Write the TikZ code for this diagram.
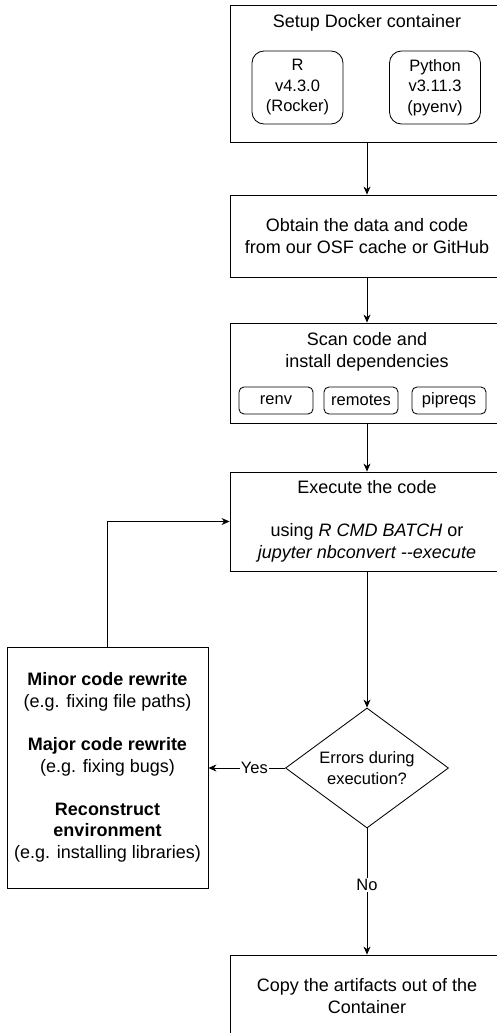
\documentclass[tikz,border=0pt]{standalone}
\usepackage{fontspec}
\setmainfont{Liberation Sans}
\usepackage{tikz}
\usetikzlibrary{shapes.geometric,arrows.meta}
\tikzstyle{box}=[shape=rectangle,draw,line width=0.85pt,minimum width=274pt,align=center,inner sep=0pt]
\tikzstyle{env}=[shape=rectangle,draw,line width=0.85pt,rounded corners=12pt,minimum width=91pt,minimum height=73pt,align=center,inner sep=0pt,font=\fontsize{16.5}{20.5}\selectfont]
\tikzstyle{pkg}=[shape=rectangle,draw,line width=0.85pt,rounded corners=5pt,minimum width=74pt,minimum height=27pt,inner sep=0pt,font=\fontsize{16.5}{20.5}\selectfont]
\tikzstyle{decide}=[shape=diamond,draw,line width=0.85pt,minimum width=163pt,minimum height=120pt,aspect=1.36,inner sep=0pt,align=center,font=\fontsize{16.5}{20.5}\selectfont]
\tikzstyle{lbl}=[fill=white,inner sep=1pt,font=\fontsize{16.5}{18}\selectfont]
\tikzstyle{to}=[->,shorten >=0pt,>={Stealth[length=8pt,width=7pt,inset=2.5pt]},line width=0.85pt]

\begin{document}
\begin{tikzpicture}[x=1pt,y=-1pt,every node/.style={font=\fontsize{18}{21.6}\selectfont}]
    \useasboundingbox (0,0) rectangle (497,1033);
    \clip (0,0) rectangle (497,1033);
    % container with the two language images
    \node[box,minimum height=137pt] (docker) at (367,73.5) {};
    \node[align=center] (dockerlbl) at (367,23) {Setup Docker container};
    \node[env] (rimg) at (297.5,87.5) {R\\v4.3.0\\(Rocker)};
    \node[env] (pyimg) at (435,87.5) {Python\\v3.11.3\\(pyenv)};
    % fetching
    \node[box,minimum height=82pt] (obtain) at (367,236)
        {Obtain the data and code\\from our OSF cache or GitHub};
    % dependencies
    \node[box,minimum height=100pt] (scan) at (367,373) {};
    \node[align=center] (scanlbl) at (367,352) {Scan code and\\install dependencies};
    \node[pkg] (renv) at (276,400.5) {renv};
    \node[pkg] (remotes) at (361,400.5) {remotes};
    \node[pkg] (pipreqs) at (449,400.5) {pipreqs};
    % running
    \node[box,minimum height=99pt] (exec) at (367,521.5)
        {Execute the code\\[21.6pt]using \textit{R CMD BATCH} or\\\textit{jupyter nbconvert -{}-execute}};
    \node[decide] (errors) at (367,768) {Errors during\\execution?};
    \node[box,minimum width=201pt,minimum height=241pt] (fix) at (107.5,767.5)
        {\textbf{Minor code rewrite}\\(e.g. fixing file paths)\\[21.6pt]%
         \textbf{Major code rewrite}\\(e.g. fixing bugs)\\[21.6pt]%
         \textbf{Reconstruct}\\\textbf{environment}\\(e.g. installing libraries)};
    \node[box,minimum height=82pt] (copy) at (367,996)
        {Copy the artifacts out of the\\Container};

    \draw[to] (docker.south) -- (obtain.north);
    \draw[to] (obtain.south) -- (scan.north);
    \draw[to] (scan.south) -- (exec.north);
    \draw[to] (exec.south) -- (errors.north);
    \draw[to] (errors.west) -- node[lbl,pos=0.4] {Yes} (fix.east |- errors.west);
    \draw[to] (fix.north) |- (exec.west);
    \draw[to] (errors.south) -- node[lbl,pos=0.45] {No} (copy.north);
\end{tikzpicture}
\end{document}
